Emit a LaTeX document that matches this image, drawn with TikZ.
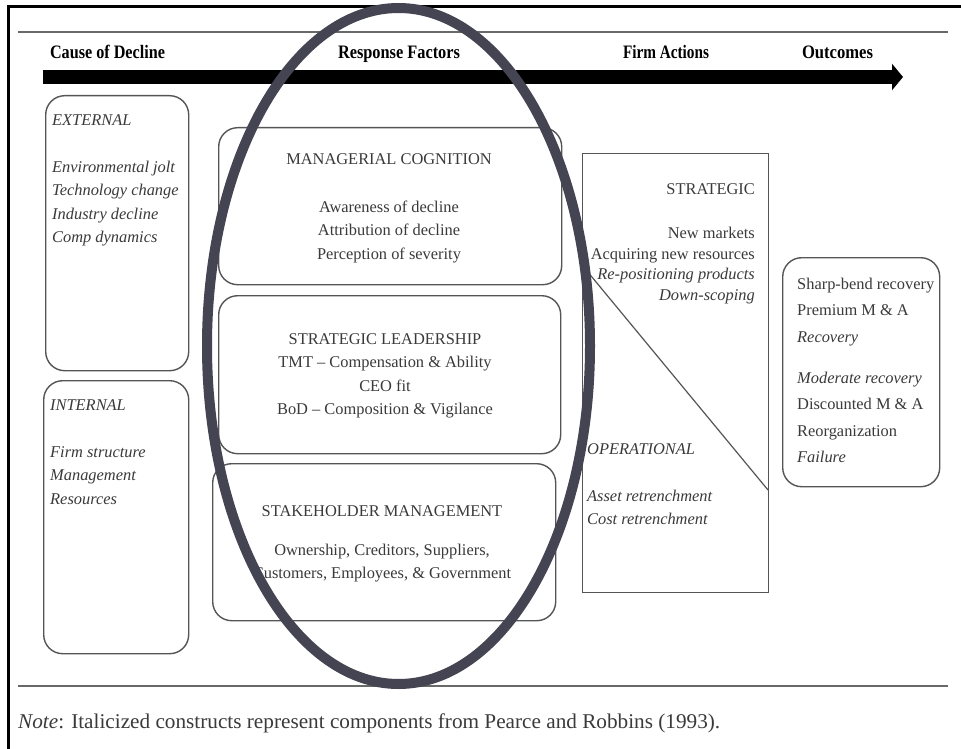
\documentclass[tikz,border=0pt]{standalone}
\usepackage{fontspec}
\setmainfont{Liberation Serif}
\usepackage{graphicx}
\usetikzlibrary{arrows.meta,shapes.geometric}

\definecolor{ink}{RGB}{58,58,58}
\definecolor{edge}{RGB}{85,85,85}
\definecolor{rulegray}{RGB}{105,105,105}
\definecolor{ring}{RGB}{68,68,82}

% stretch a line of text to a given width, keeping its height
\newcommand{\fitwidth}[2]{\resizebox{#1}{\height}{#2}}

\begin{document}
\begin{tikzpicture}[x=1pt,y=-1pt,
  panel/.style={draw=edge, line width=1.4pt, rounded corners=19pt, anchor=north west, inner sep=0pt},
  plainpanel/.style={draw=edge, line width=1.4pt, anchor=north west, inner sep=0pt},
  body/.style={text=ink, font=\fontsize{16.4}{23.5}\selectfont, inner sep=0pt},
  ibody/.style={text=ink, font=\itshape\fontsize{16.4}{23.5}\selectfont, inner sep=0pt},
  colhead/.style={text=black, font=\bfseries\fontsize{19}{19}\selectfont, inner sep=0pt, anchor=base},
]
\useasboundingbox (0,0) rectangle (961,749);
\fill[white] (0,0) rectangle (961,749);

% open frame along the top and left
\coordinate (frameBL) at (8.5,749);
\coordinate (frameTL) at (8.5,7);
\coordinate (frameTR) at (961,7);
\draw[line width=3pt] (frameBL) -- (frameTL) -- (frameTR);

% horizontal rules
\coordinate (ruleTL) at (18,32);
\coordinate (ruleTR) at (948,32);
\coordinate (ruleBL) at (18,686);
\coordinate (ruleBR) at (948,686);
\draw[rulegray, line width=2.2pt] (ruleTL) -- (ruleTR);
\draw[rulegray, line width=2.2pt] (ruleBL) -- (ruleBR);

% column headings
\node[colhead] (hcause) at (107.5,59) {\fitwidth{115pt}{Cause of Decline}};
\node[colhead] (hresp) at (399,59) {\fitwidth{122pt}{Response Factors}};
\node[colhead] (hfirm) at (666,59) {\fitwidth{86pt}{Firm Actions}};
\node[colhead] (hout) at (837.5,59) {\fitwidth{71pt}{Outcomes}};

% time arrow
\coordinate (arrowtail) at (43,77);
\coordinate (arrowtip) at (903,77);
\draw[line width=14pt, -{Triangle[length=11pt,width=26pt]}] (arrowtail) -- (arrowtip);

% causes of decline
\node[panel, minimum width=143pt, minimum height=275pt] (external) at (45,95) {};
\node[ibody, anchor=north west, align=left] (exttext) at (52,114)
  {EXTERNAL\\[23.5pt] Environmental jolt\\ Technology change\\ Industry decline\\ Comp dynamics};
\node[panel, minimum width=145pt, minimum height=273pt] (internal) at (43,380) {};
\node[ibody, anchor=north west, align=left] (inttext) at (50,399)
  {INTERNAL\\[23.5pt] Firm structure\\ Management\\ Resources};

% response factors
\node[panel, minimum width=343pt, minimum height=157pt] (cognition) at (218,127) {};
\node[body, anchor=north, align=center] (cogtext) at (389,153)
  {MANAGERIAL COGNITION\\[24.5pt] Awareness of decline\\ Attribution of decline\\ Perception of severity};
\node[panel, minimum width=342pt, minimum height=158pt] (leadership) at (218,295) {};
\node[body, anchor=north, align=center] (leadtext) at (385,333)
  {STRATEGIC LEADERSHIP\\ TMT -- Compensation \& Ability\\ CEO fit\\ BoD -- Composition \& Vigilance};
\node[panel, minimum width=343pt, minimum height=157pt] (stakeholders) at (212,463) {};
\node[body, anchor=north, align=center] (staketext) at (382,505)
  {STAKEHOLDER MANAGEMENT\\[15.5pt] Ownership, Creditors, Suppliers,\\ Customers, Employees, \& Government};

% firm actions
\node[plainpanel, minimum width=186pt, minimum height=439pt] (actions) at (582,153) {};
\coordinate (cutA) at (582,265);
\coordinate (cutB) at (768,490);
\draw[edge, line width=1.2pt] (cutA) -- (cutB);
\node[body, anchor=north east, align=right, font=\fontsize{16.4}{20.5}\selectfont] (strattext) at (755,183)
  {STRATEGIC\\[24pt] New markets\\ Acquiring new resources\\ \textit{Re-positioning products}\\ \textit{Down-scoping}};
\node[ibody, anchor=north west, align=left] (optext) at (587,443)
  {OPERATIONAL\\[23.5pt] Asset retrenchment\\ Cost retrenchment};

% outcomes
\node[panel, minimum width=157pt, minimum height=229pt] (outcomes) at (782,257) {};
\node[body, anchor=north west, align=left, font=\fontsize{16.4}{26.5}\selectfont] (outtext) at (797,277.5)
  {Sharp-bend recovery\\ Premium M \& A\\ \textit{Recovery}\\[14.5pt] \textit{Moderate recovery}\\ Discounted M \& A\\ Reorganization\\ \textit{Failure}};

% note
\node[anchor=base west, text=ink, inner sep=0pt, font=\fontsize{21}{21}\selectfont] (note) at (18,728)
  {\fitwidth{702pt}{\textit{Note}: Italicized constructs represent components from Pearce and Robbins (1993).}};

% highlight ring around the response factors
\node[draw=ring, line width=10pt, ellipse, minimum width=383pt, minimum height=676pt, inner sep=0pt] (focus) at (398.5,346) {};
\end{tikzpicture}
\end{document}
